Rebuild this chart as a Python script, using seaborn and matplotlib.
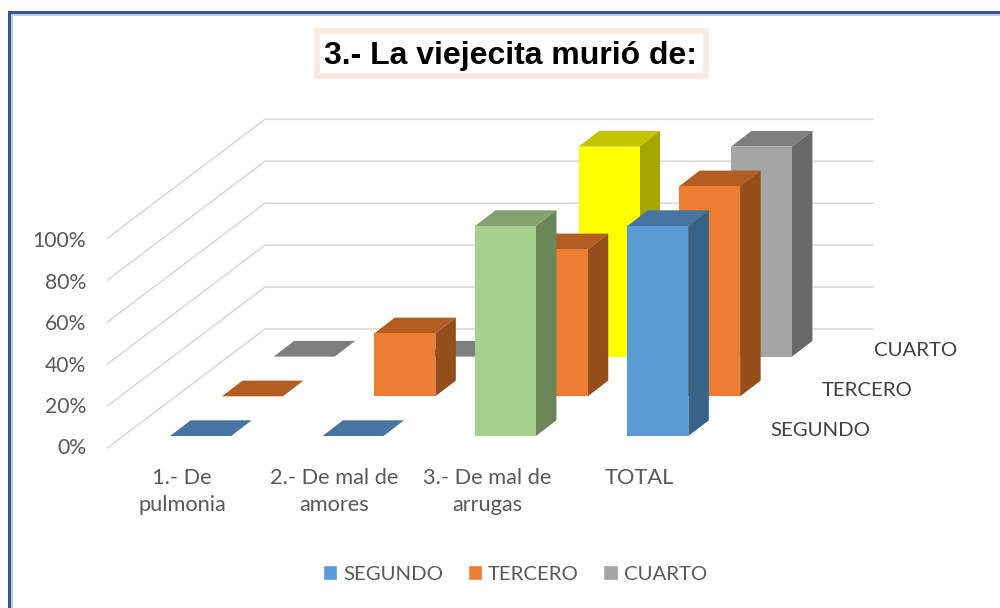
import matplotlib
matplotlib.use("Agg")
import matplotlib.pyplot as plt
import pandas as pd
import seaborn as sns
from matplotlib.patches import Patch, Polygon, Rectangle
from matplotlib.lines import Line2D
from matplotlib.transforms import Affine2D, IdentityTransform

# ---------- data ----------
categories = ["1.- De\npulmonia", "2.- De mal de\namores", "3.- De mal de\narrugas", "TOTAL"]
series_names = ["SEGUNDO", "TERCERO", "CUARTO"]
segundo = [0, 0, 100, 100]
tercero = [0, 30, 70, 100]
cuarto = [0, 0, 100, 100]
percent_ticks = [0, 20, 40, 60, 80, 100]
title_text = "3.- La viejecita murió de:"

# (front, top, side) colours per bar
BLUE = ("#5B9BD5", "#4675A2", "#376388")
ORANGE = ("#ED7D31", "#B45D22", "#954F1D")
GRAY = ("#A5A5A5", "#7F7F7F", "#696969")
GREEN = ("#A9D18E", "#84A270", "#6C8659")
YELLOW = ("#FFFF00", "#C4C400", "#A6A600")
segundo_colors = [BLUE, BLUE, GREEN, BLUE]
tercero_colors = [ORANGE] * 4
cuarto_colors = [GRAY, GRAY, YELLOW, GRAY]

# ---------- layout (pixels, image coordinates) ----------
W, H = 1000, 608
STEP_X, STEP_Y = 51.8, 39.7      # shift per series in depth
DEEP_X, DEEP_Y = 20.5, 15.7      # depth of a bar
BAR_W = 61 / 152.4

sns.set_theme(style="white")
plt.rcParams["font.family"] = ["Lato", "DejaVu Sans"]
TXT = "#595959"
FS = 15.2
FS_CAT = 15.7
FS_SER = 14.7

fig = plt.figure(figsize=(W / 100, H / 100), dpi=100, facecolor="white")


def axes_px(left, right, bottom, top):
    return fig.add_axes([left / W, (H - bottom) / H, (right - left) / W, (bottom - top) / H])


def frame_rect(x0, y0, x1, y1, color, z=50):
    fig.add_artist(Rectangle((x0 / W, (H - y1) / H), (x1 - x0) / W, (y1 - y0) / H,
                             transform=fig.transFigure, fc=color, ec="none", zorder=z))


# page frame: only top and left sides are in view
frame_rect(11, 14, 1000, 15.5, "#C9CBD0")
frame_rect(11, 14, 12.5, 608, "#C9CBD0")
frame_rect(8, 11, 1000, 14, "#2F5597")
frame_rect(8, 11, 11, 608, "#2F5597")

# main axes = plane of the front series
ax = axes_px(124.45, 734.05, 436, 226)

# gridlines on floor/wall
for v in percent_ticks:
    y_front = H - (448 - 2.097 * v)
    y_back = H - (329 - 2.097 * v)
    ax.add_line(Line2D([107.3, 265, 873], [y_front, y_back, y_back], color="#D9D9D9", lw=1.15,
                       transform=IdentityTransform(), clip_on=False, zorder=1))

all_values = [segundo, tercero, cuarto]
all_colors = [segundo_colors, tercero_colors, cuarto_colors]

# front faces with seaborn, shifted back according to depth
for depth in (2, 1, 0):
    df = pd.DataFrame({"cat": categories, "val": all_values[depth]})
    pal = {c: col[0] for c, col in zip(categories, all_colors[depth])}
    n = len(ax.patches)
    sns.barplot(data=df, x="cat", y="val", hue="cat", order=categories, hue_order=categories,
                palette=pal, width=BAR_W, saturation=1, legend=False, ax=ax)
    shift = ax.transData + Affine2D().translate(STEP_X * depth, STEP_Y * depth)
    for p in ax.patches[n:]:
        p.set_transform(shift)
        p.set_clip_on(False)
        p.set_zorder(10 * (3 - depth) + 2)
        p.set_linewidth(0)

ax.set_xlim(-0.5, 3.5)
ax.set_ylim(0, 100)
ax.set_axis_off()

# top and side faces from the same data and the axes' scales
for depth in (2, 1, 0):
    for i, v in enumerate(all_values[depth]):
        front, top_c, side_c = all_colors[depth][i]
        (xl, yb) = ax.transData.transform((i - BAR_W / 2, 0))
        (xr, yt) = ax.transData.transform((i + BAR_W / 2, v))
        ox, oy = STEP_X * depth, STEP_Y * depth
        xl, xr, yb, yt = xl + ox, xr + ox, yb + oy, yt + oy
        z = 10 * (3 - depth) + 1
        ax.add_patch(Polygon([(xl, yt), (xr, yt), (xr + DEEP_X, yt + DEEP_Y), (xl + DEEP_X, yt + DEEP_Y)],
                             closed=True, fc=top_c, ec="none", transform=IdentityTransform(),
                             clip_on=False, zorder=z))
        if v > 0:
            ax.add_patch(Polygon([(xr, yb), (xr + DEEP_X, yb + DEEP_Y), (xr + DEEP_X, yt + DEEP_Y), (xr, yt)],
                                 closed=True, fc=side_c, ec="none", transform=IdentityTransform(),
                                 clip_on=False, zorder=z))

# percent axis
yax = axes_px(86, 90, 446.5, 239.2)
yax.set_ylim(0, 100)
yax.set_xticks([])
yax.set_yticks(percent_ticks)
yax.set_yticklabels([f"{v}%" for v in percent_ticks], color=TXT, fontsize=FS)
yax.tick_params(axis="y", length=0, pad=0)
yax.patch.set_alpha(0)
sns.despine(ax=yax, left=True, bottom=True)

# category axis
xax = axes_px(124.45 - 18.6, 734.05 - 18.6, 436, 430)
xax.set_xlim(-0.5, 3.5)
xax.set_yticks([])
xax.set_xticks(range(len(categories)))
xax.set_xticklabels(categories, color=TXT, fontsize=FS_CAT, linespacing=1.42)
xax.tick_params(axis="x", length=0, pad=23)
xax.patch.set_alpha(0)
sns.despine(ax=xax, left=True, bottom=True)

# depth axis labels
for d, name in enumerate(series_names):
    fig.text((770 + 52 * d) / W, (H - (428.7 - 39.8 * d)) / H, name, color="#404040",
             fontsize=FS_SER, ha="left", va="center_baseline")

# title
fig.add_artist(Rectangle((316.5 / W, (H - 75.5) / H), 389 / W, 44.5 / H, transform=fig.transFigure,
                         fc="white", ec="#FDE9DC", lw=4, zorder=5))
fig.text(510 / W, (H - 56) / H, title_text, family="Liberation Sans", fontweight="bold",
         fontsize=23, color="black", ha="center", va="center", zorder=6)

# legend
handles = [Patch(fc=BLUE[0], label=series_names[0]), Patch(fc=ORANGE[0], label=series_names[1]),
           Patch(fc=GRAY[0], label=series_names[2])]
leg = fig.legend(handles=handles, ncol=3, loc="center", bbox_to_anchor=(515 / W, (H - 574) / H),
                 frameon=False, fontsize=FS_SER, labelcolor=TXT, handlelength=0.69, handleheight=0.69,
                 handletextpad=0.3, columnspacing=1.2, borderpad=0)

fig.savefig("out.png", dpi=100, facecolor="white")
